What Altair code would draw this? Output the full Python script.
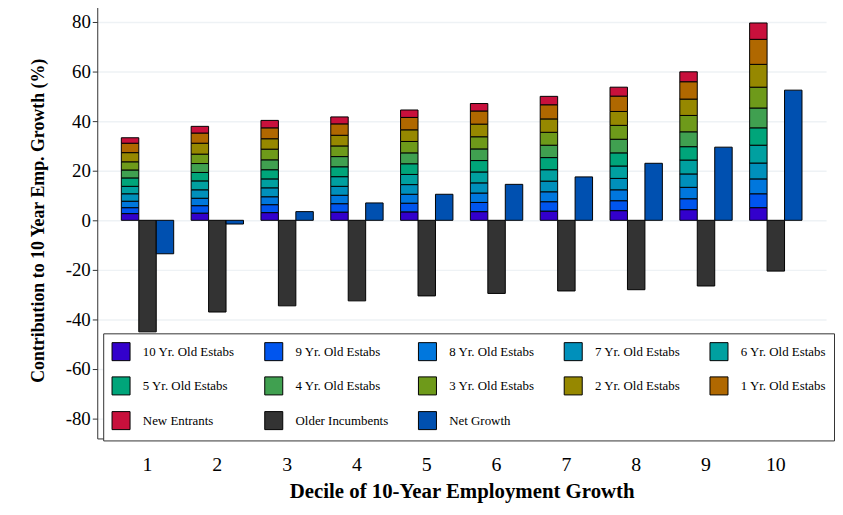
import altair as alt
import pandas as pd

deciles = [1, 2, 3, 4, 5, 6, 7, 8, 9, 10]

cohorts = ['10 Yr. Old Estabs', '9 Yr. Old Estabs', '8 Yr. Old Estabs', '7 Yr. Old Estabs',
           '6 Yr. Old Estabs', '5 Yr. Old Estabs', '4 Yr. Old Estabs', '3 Yr. Old Estabs',
           '2 Yr. Old Estabs', '1 Yr. Old Estabs', 'New Entrants']

# contribution of each cohort, one list per decile (10 yr old first ... new entrants last)
cohort_values = [
    [2.7, 2.4, 2.6, 3.0, 3.0, 3.4, 3.2, 3.3, 3.7, 3.8, 2.2],
    [2.9, 3.0, 3.0, 3.4, 3.6, 3.4, 3.6, 3.8, 4.4, 4.1, 2.7],
    [3.1, 3.2, 3.2, 3.6, 3.6, 3.7, 4.0, 4.3, 4.2, 4.4, 3.0],
    [3.3, 3.4, 3.4, 3.6, 3.9, 4.0, 4.1, 4.3, 4.3, 4.6, 2.8],
    [3.4, 3.5, 3.6, 3.9, 4.1, 4.3, 4.4, 4.6, 4.7, 5.0, 3.0],
    [3.5, 3.7, 3.8, 4.1, 4.4, 4.6, 4.7, 4.9, 5.1, 5.3, 3.0],
    [3.7, 3.8, 4.0, 4.3, 4.6, 4.9, 5.0, 5.2, 5.4, 5.7, 3.4],
    [3.9, 4.0, 4.4, 4.6, 5.0, 5.3, 5.5, 5.6, 5.6, 6.2, 3.6],
    [4.3, 4.4, 4.6, 5.4, 5.6, 5.4, 6.0, 6.6, 6.6, 7.0, 4.0],
    [5.1, 5.6, 6.0, 6.4, 7.2, 7.0, 8.0, 8.4, 9.2, 10.1, 6.6],
]
older_incumbents = [-45.0, -37.0, -34.5, -32.5, -30.5, -29.5, -28.5, -28.0, -26.5, -20.5]
net_growth = [-13.5, -1.5, 3.5, 7.0, 10.5, 14.5, 17.5, 23.0, 29.5, 52.5]

categories = cohorts + ['Older Incumbents', 'Net Growth']
colors = ['#3300cc', '#0055ee', '#0077dd', '#0090bb', '#00a0a0', '#00a57a', '#40a050',
          '#6e9a1a', '#968800', '#b06800', '#c8103c', '#333333', '#0050b0']

rows = []
for i, d in enumerate(deciles):
    for j, c in enumerate(cohorts):
        rows.append({'decile': d, 'grp': 'a', 'cat': c, 'order': j, 'value': cohort_values[i][j]})
    rows.append({'decile': d, 'grp': 'b', 'cat': 'Older Incumbents', 'order': 0, 'value': older_incumbents[i]})
    rows.append({'decile': d, 'grp': 'c', 'cat': 'Net Growth', 'order': 0, 'value': net_growth[i]})
df = pd.DataFrame(rows)

font = 'Liberation Serif'

chart = alt.Chart(df).mark_bar(stroke='black', strokeWidth=1).encode(
    x=alt.X('decile:O', title='Decile of 10-Year Employment Growth',
            scale=alt.Scale(paddingInner=0, paddingOuter=0.22),
            axis=alt.Axis(labelAngle=0, ticks=False, labelFontSize=20, labelPadding=16,
                          titleFontSize=21, titleFontWeight='bold', titlePadding=7,
                          domainColor='#333333')),
    xOffset=alt.XOffset('grp:N', scale=alt.Scale(paddingInner=0, paddingOuter=0.5)),
    y=alt.Y('value:Q', stack='zero', title='Contribution to 10 Year Emp. Growth (%)',
            scale=alt.Scale(domain=[-88, 88], nice=False),
            axis=alt.Axis(values=[-80, -60, -40, -20, 0, 20, 40, 60, 80], labelFontSize=19,
                          labelExpr="replace(datum.label, '−', '-')",
                          titleFontSize=18, titleFontWeight='bold', gridColor='#eef2f5',
                          gridWidth=1.5, domainColor='#333333', tickColor='#333333',
                          titlePadding=18)),
    color=alt.Color('cat:N', scale=alt.Scale(domain=categories, range=colors),
                    legend=alt.Legend(title=None, orient='none', legendX=6, legendY=334,
                                      direction='horizontal', columns=5,
                                      symbolType='square', symbolSize=330,
                                      symbolStrokeColor='black', symbolStrokeWidth=1,
                                      labelFontSize=13, labelLimit=200, columnPadding=27,
                                      labelOffset=12, rowPadding=11, padding=8,
                                      strokeColor='#333333', fillColor='white',
                                      symbolOpacity=1)),
    order=alt.Order('order:Q'),
).properties(
    width=735, height=440,
    padding={'top': -8, 'left': 21, 'right': 0, 'bottom': 0}
).configure(
    font=font
).configure_view(stroke=None)

chart.save("out.html", embed_options={"renderer": "svg", "actions": False})
